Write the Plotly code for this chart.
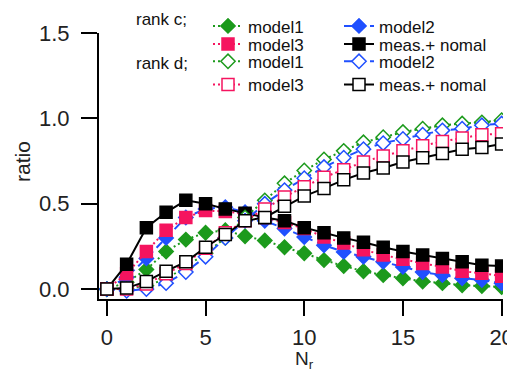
import plotly.graph_objects as go

N = list(range(0, 21))

# rank c (filled markers)
c_model1 = [0.0, 0.04, 0.115, 0.22, 0.29, 0.33, 0.345, 0.31, 0.285, 0.245, 0.21, 0.17, 0.135, 0.105, 0.082, 0.064, 0.045, 0.035, 0.023, 0.018, 0.012]
c_model2 = [0.0, 0.07, 0.18, 0.30, 0.42, 0.47, 0.48, 0.45, 0.40, 0.355, 0.305, 0.257, 0.218, 0.19, 0.16, 0.13, 0.10, 0.082, 0.064, 0.053, 0.035]
c_model3 = [0.0, 0.09, 0.22, 0.345, 0.42, 0.46, 0.455, 0.44, 0.42, 0.39, 0.355, 0.305, 0.27, 0.23, 0.20, 0.175, 0.15, 0.13, 0.105, 0.093, 0.076]
c_meas = [0.0, 0.146, 0.36, 0.45, 0.52, 0.50, 0.47, 0.445, 0.42, 0.40, 0.36, 0.33, 0.30, 0.275, 0.245, 0.22, 0.20, 0.18, 0.16, 0.14, 0.135]

# rank d (open markers)
d_model1 = [0.0, 0.0, 0.02, 0.06, 0.13, 0.21, 0.30, 0.42, 0.52, 0.62, 0.695, 0.76, 0.81, 0.86, 0.89, 0.92, 0.94, 0.96, 0.97, 0.977, 0.99]
d_model2 = [0.0, -0.01, 0.0, 0.035, 0.10, 0.19, 0.30, 0.40, 0.50, 0.58, 0.65, 0.715, 0.77, 0.82, 0.855, 0.88, 0.905, 0.93, 0.94, 0.96, 0.97]
d_model3 = [0.0, 0.0, 0.03, 0.09, 0.15, 0.24, 0.33, 0.40, 0.47, 0.54, 0.60, 0.655, 0.70, 0.745, 0.78, 0.81, 0.84, 0.865, 0.885, 0.905, 0.91]
d_meas = [0.0, 0.006, 0.045, 0.105, 0.16, 0.245, 0.32, 0.40, 0.42, 0.485, 0.545, 0.59, 0.64, 0.68, 0.71, 0.745, 0.77, 0.795, 0.82, 0.83, 0.85]

x_ticks = [0, 5, 10, 15, 20]
y_ticks = [0.0, 0.5, 1.0, 1.5]

GREEN = "#1c9a1c"
BLUE = "#2050ff"
PINK = "#f5145f"
BLACK = "#000000"
FONT = "Liberation Sans, Arial, sans-serif"

fig = go.Figure()

def add(y, name, color, dash, symbol, size, filled, legend, lw=None):
    fig.add_trace(go.Scatter(
        x=N, y=y, name=name, mode="lines+markers",
        line=dict(color=color, width=2, dash=dash),
        marker=dict(symbol=symbol, size=size,
                    color=color if filled else "white",
                    line=dict(color=color, width=1.5)),
        legend=legend, legendwidth=lw,
    ))

DOT = "2px,3px"
DASH = "8px,5px"

add(c_model1, "model1", GREEN, DOT, "diamond", 11, True, "legend")
add(c_model2, "model2", BLUE, DASH, "diamond", 11, True, "legend", 60)
add(c_model3, "model3", PINK, DOT, "square", 12, True, "legend2")
add(c_meas, "meas.+ nomal", BLACK, "solid", "square", 12, True, "legend2", 125)
add(d_model1, "model1", GREEN, DOT, "diamond", 11, False, "legend3")
add(d_model2, "model2", BLUE, DASH, "diamond", 11, False, "legend3", 60)
add(d_model3, "model3", PINK, DOT, "square", 12, False, "legend4")
add(d_meas, "meas.+ nomal", BLACK, "solid", "square", 12, False, "legend4", 125)

# the page body has an 8px margin, so the figure is drawn 8px in from the top-left
OFF = 8
W, H = 515 - OFF, 371 - OFF

def leg(frac):
    return dict(orientation="h", xref="container", yref="container",
                x=(208 - OFF) / W, xanchor="left", y=frac, yanchor="middle",
                entrywidth=86, entrywidthmode="pixels",
                font=dict(family=FONT, size=17, color="#111"),
                bgcolor="rgba(0,0,0,0)", borderwidth=0)

PL, PR, PT, PB = 99 - OFF, 503 - OFF, 33 - OFF, 299 - OFF
PW, PH = PR - PL, PB - PT

def px_x(page_x):
    return (page_x - 99) / PW

def px_y(page_y):
    return (299 - page_y) / PH

TXT = dict(family=FONT, size=17, color="#111")

fig.update_layout(
    width=W, height=H,
    margin=dict(l=PL, r=W - PR, t=PT, b=H - PB, autoexpand=False),
    plot_bgcolor="white", paper_bgcolor="white",
    font=dict(family=FONT, color="#222"),
    showlegend=True,
    legend=leg(0.9495), legend2=leg(0.8995), legend3=leg(0.852), legend4=leg(0.788),
    xaxis=dict(range=[-0.4, 20.07], tickvals=x_ticks, ticks="outside", ticklen=15,
               tickwidth=2, tickcolor="black", showline=True, linewidth=2,
               linecolor="black", showgrid=False, zeroline=False,
               ticklabelstandoff=3,
               tickfont=dict(size=22, family=FONT, color="#222")),
    yaxis=dict(range=[-0.058, 1.5005], tickvals=y_ticks, tickformat=".1f",
               ticks="outside", ticklen=16, tickwidth=2, tickcolor="black",
               showline=True, linewidth=2, linecolor="black", showgrid=False,
               zeroline=False, ticklabelstandoff=7,
               tickfont=dict(size=22, family=FONT, color="#222")),
    annotations=[
        dict(text="rank c;", xref="paper", yref="paper", x=px_x(134),
             y=px_y(20), xanchor="left", yanchor="middle", showarrow=False, font=TXT),
        dict(text="rank d;", xref="paper", yref="paper", x=px_x(134),
             y=px_y(63), xanchor="left", yanchor="middle", showarrow=False, font=TXT),
        dict(text="N<sub>r</sub>", xref="paper", yref="paper", x=px_x(304),
             y=px_y(346), xanchor="center", yanchor="top", showarrow=False,
             font=dict(family=FONT, size=19, color="#222")),
        dict(text="ratio", xref="paper", yref="paper", x=px_x(22),
             y=px_y(162), xanchor="center", yanchor="middle", textangle=-90,
             showarrow=False, font=dict(family=FONT, size=21, color="#222")),
    ],
)

fig.write_html("out.html")
